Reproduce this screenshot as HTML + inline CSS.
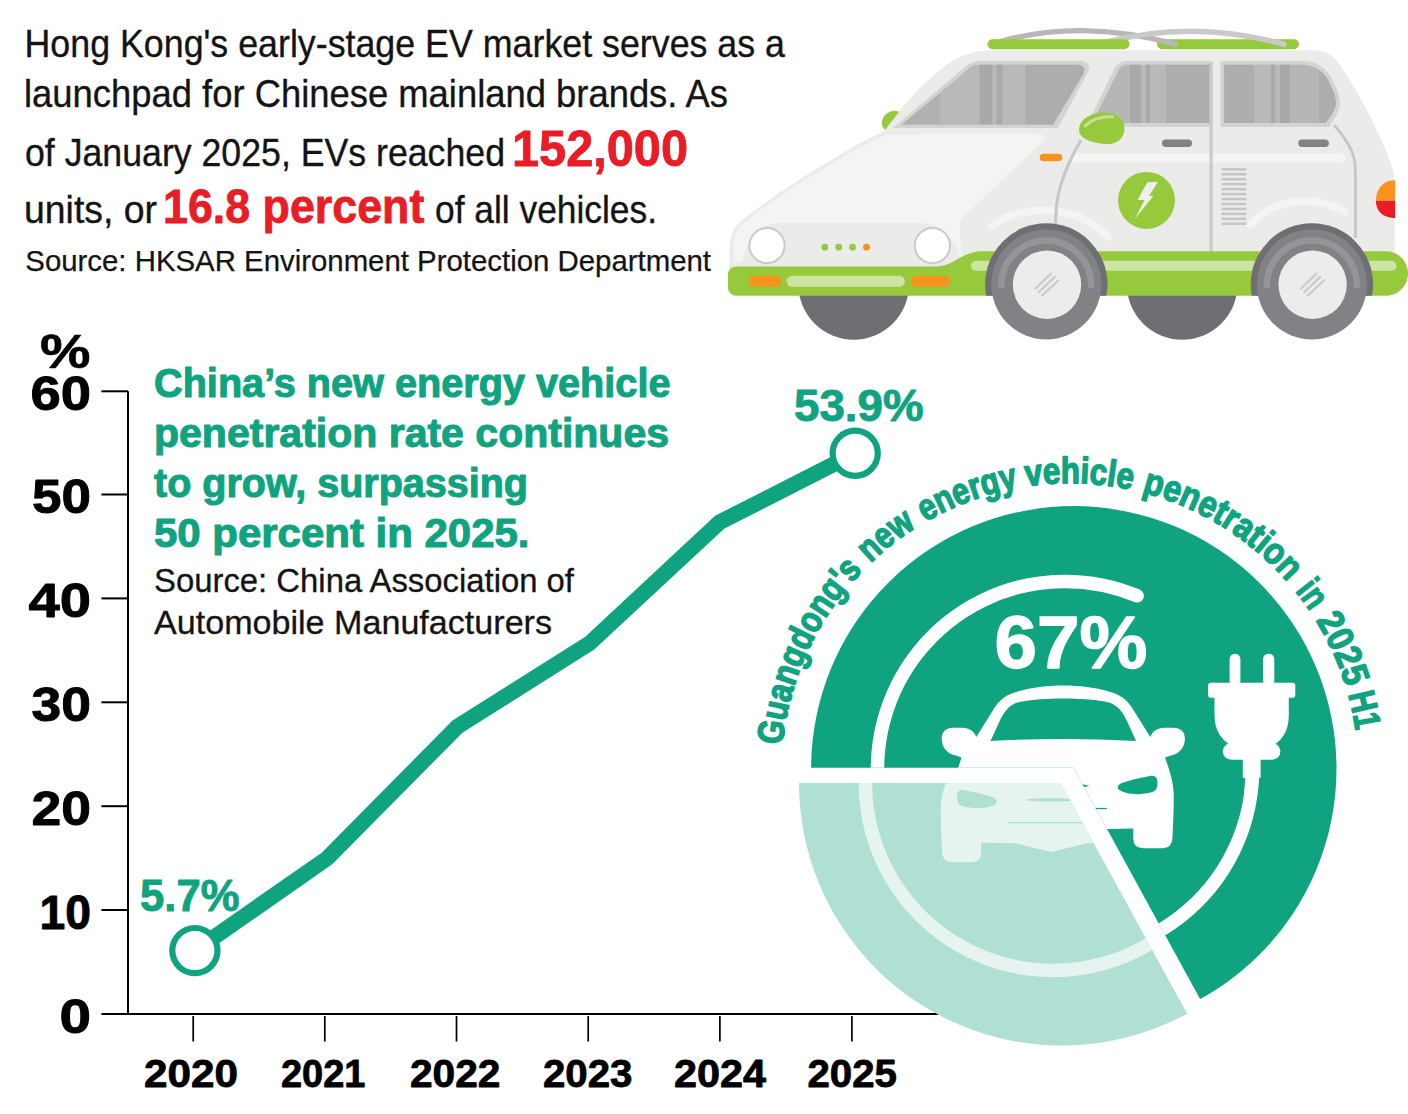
<!DOCTYPE html>
<html lang="en"><head><meta charset="utf-8"><title>EV market infographic</title>
<style>
html,body{margin:0;padding:0;background:#fff}
body{width:1408px;height:1114px;overflow:hidden}
svg{display:block}
svg text{font-family:"Liberation Sans",sans-serif}
</style></head><body>
<svg width="1408" height="1114" viewBox="0 0 1408 1114">
<rect width="1408" height="1114" fill="#fff"/>
<g>
<circle cx="853.7" cy="284.3" r="55.4" fill="#6e6f72"/>
<circle cx="1182.2" cy="284.3" r="55.4" fill="#6e6f72"/>
<ellipse cx="892.5" cy="121" rx="11.5" ry="9.5" fill="#97c93c" transform="rotate(-40 892.5 121)"/>
<rect x="1157" y="39.2" width="142" height="10" rx="5" fill="#97c93c"/>
<path d="M994 43.5C1026 33.5 1058 30.3 1083 30.6C1118 31.2 1150 36.8 1175.5 44.4" fill="none" stroke="#b7b7b6" stroke-width="5.4" stroke-linecap="round"/>
<path d="M1102 43C1136 34 1166 31 1192 31.2C1226 31.6 1258 37 1284 44.4" fill="none" stroke="#c9c9c8" stroke-width="5.4" stroke-linecap="round"/>
<rect x="987.5" y="39.2" width="142" height="10" rx="5" fill="#97c93c"/>
<path d="M729.5 292V248C729.5 238 732 230 740 222C760 205 800 178 848 150C862 142 874 136 884 131C890 124 898 113 906 103C920 87 934 74 945 66C955 58 968 52 988 50.2H1312C1322 50.2 1330 52.5 1336 60C1350 78 1368 110 1380 137C1388 155 1394.8 168 1394.8 185V292Z" fill="#ebebe9"/>
<path d="M734 262V244C734 236 736 231 742 225C765 205 805 179 850 153C864 145 876 139 886 134.5L1038 133.6C1044 133.6 1046 138 1042 142L966 214C961 219 959.5 223 960 228L962 258L940 264Z" fill="#f4f4f3"/>
<path d="M742 267C743 246 756 222.8 782 222.8H918C942 222.8 956 240 961 260L940 267Z" fill="#ebebe9"/>
<rect x="1070" y="153.6" width="276" height="9" rx="4.5" fill="#f4f4f3"/>
<path d="M992 226C1006 215 1026 210 1046 210.5C1070 211 1092 220 1108 237" fill="none" stroke="#f4f4f3" stroke-width="7.5" stroke-linecap="round"/>
<path d="M1250.5 225C1264 209 1284 201 1304 201C1320 201 1334 205 1345 212" fill="none" stroke="#f4f4f3" stroke-width="7.5" stroke-linecap="round"/>
<path d="M893 128L966 66C970 62.5 975 61 980 61H1080C1088 61 1091 66 1087.5 73L1058 128Z" fill="#d3d3d1"/>
<path d="M902 124.6L970.5 67.5C973 65.5 975.5 64.8 979 64.8H1077C1083.5 64.8 1086 69 1083 74.5L1053 124.6Z" fill="#b3b3b3"/>
<path d="M1086 127L1114 69C1116.5 64 1121 61 1127 61H1211V127Z" fill="#d3d3d1"/>
<path d="M1092.5 123L1118.5 70.5C1120.3 66.8 1123 64.8 1127 64.8H1209.9V123Z" fill="#b3b3b3"/>
<path d="M1220.5 61H1301C1318 61 1327.5 69 1332.5 80C1338 91 1341 100 1339.5 107C1338 114 1333 121 1329 127H1220.5Z" fill="#d3d3d1"/>
<path d="M1224.2 64.8H1300C1315 64.8 1324 72 1329 82C1334 92 1337 100 1335.5 106C1334 112 1330 118 1325.6 123H1224.2Z" fill="#b3b3b3"/>
<g clip-path="url(#gl1)">
</g>
<clipPath id="gw1"><path d="M902 124.6L970.5 67.5C973 65.5 975.5 64.8 979 64.8H1077C1083.5 64.8 1086 69 1083 74.5L1053 124.6Z"/></clipPath><g clip-path="url(#gw1)">
<rect x="900" y="60" width="40" height="70" fill="#b1b1b1"/>
<rect x="940" y="60" width="39.5" height="70" fill="#b9b9b9"/>
<rect x="979.5" y="60" width="13" height="70" fill="#a9a9a9"/>
<rect x="992.5" y="60" width="4" height="70" fill="#bababa"/>
<rect x="996.5" y="60" width="6" height="70" fill="#a9a9a9"/>
<rect x="1002.5" y="60" width="23" height="70" fill="#b9b9b9"/>
<rect x="1025.5" y="60" width="70" height="70" fill="#adadad"/>
</g>
<clipPath id="gw2"><path d="M1092.5 123L1118.5 70.5C1120.3 66.8 1123 64.8 1127 64.8H1209.9V123Z"/></clipPath><g clip-path="url(#gw2)">
<rect x="1090" y="60" width="40" height="70" fill="#b6b6b6"/>
<rect x="1130" y="60" width="11" height="70" fill="#a9a9a9"/>
<rect x="1141" y="60" width="5" height="70" fill="#b9b9b9"/>
<rect x="1146" y="60" width="4" height="70" fill="#a9a9a9"/>
<rect x="1150" y="60" width="16" height="70" fill="#b9b9b9"/>
<rect x="1166" y="60" width="45" height="70" fill="#adadad"/>
</g>
<clipPath id="gw3"><path d="M1224.2 64.8H1300C1315 64.8 1324 72 1329 82C1334 92 1337 100 1335.5 106C1334 112 1330 118 1325.6 123H1224.2Z"/></clipPath><g clip-path="url(#gw3)">
<rect x="1224" y="60" width="30" height="70" fill="#adadad"/>
<rect x="1254" y="60" width="17" height="70" fill="#b9b9b9"/>
<rect x="1271" y="60" width="4" height="70" fill="#a9a9a9"/>
<rect x="1275" y="60" width="5" height="70" fill="#b9b9b9"/>
<rect x="1280" y="60" width="10" height="70" fill="#a9a9a9"/>
<rect x="1290" y="60" width="29" height="70" fill="#b6b6b6"/>
<rect x="1319" y="60" width="20" height="70" fill="#adadad"/>
</g>
<path d="M1211.1 62V252" stroke="#cbcbc9" stroke-width="3.4" fill="none"/>
<path d="M1081 140C1074 152 1066 168 1061 184C1057 197 1055.5 210 1055.5 226" stroke="#c7c7c6" stroke-width="3.1" fill="none"/>
<path d="M1334 125C1343 135 1351 146 1354 158C1355.5 164 1355.5 170 1355.5 176V238" stroke="#c7c7c6" stroke-width="2.8" fill="none"/>
<rect x="1162" y="139.6" width="30" height="7.4" rx="3.7" fill="#808285"/>
<rect x="1298.3" y="139.6" width="30.6" height="7.4" rx="3.7" fill="#808285"/>
<rect x="1039.7" y="153.7" width="22.5" height="7.6" rx="3.8" fill="#f7941e"/>
<rect x="1221.5" y="168.1" width="24.9" height="2.5" fill="#c5c5c4"/>
<rect x="1221.5" y="173.0" width="24.9" height="2.5" fill="#c5c5c4"/>
<rect x="1221.5" y="178.0" width="24.9" height="2.5" fill="#c5c5c4"/>
<rect x="1221.5" y="182.9" width="24.9" height="2.5" fill="#c5c5c4"/>
<rect x="1221.5" y="187.9" width="24.9" height="2.5" fill="#c5c5c4"/>
<rect x="1221.5" y="192.8" width="24.9" height="2.5" fill="#c5c5c4"/>
<rect x="1221.5" y="197.8" width="24.9" height="2.5" fill="#c5c5c4"/>
<rect x="1221.5" y="202.7" width="24.9" height="2.5" fill="#c5c5c4"/>
<rect x="1221.5" y="207.7" width="24.9" height="2.5" fill="#c5c5c4"/>
<rect x="1221.5" y="212.6" width="24.9" height="2.5" fill="#c5c5c4"/>
<rect x="1221.5" y="217.6" width="24.9" height="2.5" fill="#c5c5c4"/>
<rect x="1221.5" y="222.5" width="24.9" height="2.5" fill="#c5c5c4"/>
<circle cx="1146.5" cy="200.4" r="28.5" fill="#97c93c"/>
<path d="M1147.5 182.2L1158 181.8L1149.1 196H1153.4L1135 218.8L1144.5 200H1137.5Z" fill="#efefed"/>
<path d="M1079 130C1079 121 1088 114 1101 112.6C1114 111.5 1123 117 1124.3 126C1125.5 136 1119 144 1108 144C1094 144 1079 139 1079 130Z" fill="#97c93c"/>
<path d="M1085 126C1091 120 1101 116.5 1112.5 116.8" stroke="#c6e192" stroke-width="3" fill="none" stroke-linecap="round"/>
<path d="M1395.2 180.2H1394C1383 180.2 1375.9 189 1375.9 200.8H1395.2Z" fill="#f7941e"/>
<path d="M1375.9 200.8C1375.9 211 1383 217.9 1394 217.9H1395.2V200.8Z" fill="#ed1c24"/>
<path d="M736.5 266.5H935C955 266.5 961 251.2 983 251.2H1385.7C1398 251.2 1408 261 1408 273.5C1408 286 1398 295.8 1385.7 295.8H736.5C731.5 295.8 728 292 728 287.5V275C728 270 731.5 266.5 736.5 266.5Z" fill="#97c93c"/>
<rect x="786.6" y="275.8" width="118.3" height="11" rx="5.5" fill="#cbe5a3"/>
<rect x="748.4" y="275.8" width="32.8" height="11" rx="5.5" fill="#f7941e"/>
<rect x="910.5" y="275.8" width="39.8" height="11" rx="5.5" fill="#f7941e"/>
<rect x="971" y="260.8" width="425.5" height="10" rx="5" fill="#cbe5a3"/>
<circle cx="767" cy="245.6" r="17.6" fill="#fff" stroke="#c9c9c8" stroke-width="2"/>
<circle cx="932.4" cy="245.6" r="17.6" fill="#fff" stroke="#c9c9c8" stroke-width="2"/>
<circle cx="824.8" cy="247.2" r="3.4" fill="#97c93c"/>
<circle cx="838.7" cy="247.2" r="3.4" fill="#97c93c"/>
<circle cx="852.6" cy="247.2" r="3.4" fill="#97c93c"/>
<circle cx="866.5" cy="247.2" r="3.4" fill="#f7941e"/>
<clipPath id="archclip"><rect x="960" y="200" width="448" height="95.8"/></clipPath>
<circle cx="1046.3" cy="284.4" r="61.2" fill="#6e6f72" clip-path="url(#archclip)"/>
<circle cx="1046.3" cy="284.4" r="55" fill="#808285"/>
<path d="M1001.3 285.4A45 45 0 0 1 1091.3 285.4" fill="none" stroke="#939598" stroke-width="6.5" stroke-linecap="round"/>
<circle cx="1047.0" cy="284.7" r="34.2" fill="#ececea"/>
<path d="M1034.8 289.1L1051.5 273.1" stroke="#cbcbca" stroke-width="2.2" fill="none"/>
<path d="M1038.2 292.6L1055.3 276.4" stroke="#cbcbca" stroke-width="2.2" fill="none"/>
<path d="M1041.6 296.1L1059.1 279.7" stroke="#cbcbca" stroke-width="2.2" fill="none"/>
<circle cx="1311.9" cy="284.4" r="61.2" fill="#6e6f72" clip-path="url(#archclip)"/>
<circle cx="1311.9" cy="284.4" r="55" fill="#808285"/>
<path d="M1266.9 285.4A45 45 0 0 1 1356.9 285.4" fill="none" stroke="#939598" stroke-width="6.5" stroke-linecap="round"/>
<circle cx="1312.6000000000001" cy="284.7" r="34.2" fill="#ececea"/>
<path d="M1300.4 289.1L1317.1 273.1" stroke="#cbcbca" stroke-width="2.2" fill="none"/>
<path d="M1303.8 292.6L1320.9 276.4" stroke="#cbcbca" stroke-width="2.2" fill="none"/>
<path d="M1307.2 296.1L1324.7 279.7" stroke="#cbcbca" stroke-width="2.2" fill="none"/>
</g>
<text x="24.5" y="57.0" font-size="39.5" font-weight="normal" fill="#141414" textLength="760.5" lengthAdjust="spacingAndGlyphs" stroke="#141414" stroke-width="0.35" stroke-linejoin="round">Hong Kong's early-stage EV market serves as a</text>
<text x="24.0" y="107.0" font-size="39.5" font-weight="normal" fill="#141414" textLength="704.0" lengthAdjust="spacingAndGlyphs" stroke="#141414" stroke-width="0.35" stroke-linejoin="round">launchpad for Chinese mainland brands. As</text>
<text x="25.0" y="165.7" font-size="39.5" font-weight="normal" fill="#141414" textLength="480.0" lengthAdjust="spacingAndGlyphs" stroke="#141414" stroke-width="0.35" stroke-linejoin="round">of January 2025, EVs reached</text>
<text x="512.0" y="166.0" font-size="49.2" font-weight="bold" fill="#e81d25" textLength="176.0" lengthAdjust="spacingAndGlyphs" stroke="#e81d25" stroke-width="0.8" stroke-linejoin="round">152,000</text>
<text x="24.0" y="222.5" font-size="39.5" font-weight="normal" fill="#141414" textLength="133.0" lengthAdjust="spacingAndGlyphs" stroke="#141414" stroke-width="0.35" stroke-linejoin="round">units, or</text>
<text x="163.0" y="223.4" font-size="47.8" font-weight="bold" fill="#e81d25" textLength="261.3" lengthAdjust="spacingAndGlyphs" stroke="#e81d25" stroke-width="0.8" stroke-linejoin="round">16.8 percent</text>
<text x="435.0" y="222.5" font-size="39.5" font-weight="normal" fill="#141414" textLength="222.0" lengthAdjust="spacingAndGlyphs" stroke="#141414" stroke-width="0.35" stroke-linejoin="round">of all vehicles.</text>
<text x="25.3" y="270.5" font-size="29.2" font-weight="normal" fill="#141414" textLength="685.7" lengthAdjust="spacingAndGlyphs" stroke="#141414" stroke-width="0.25" stroke-linejoin="round">Source: HKSAR Environment Protection Department</text>
<g stroke="#000" stroke-width="2" fill="none">
<path d="M128 391.3V1014"/>
<path d="M101.4 1014H938"/>
<path d="M101.4 391.3H128"/>
<path d="M101.4 494.5H128"/>
<path d="M101.4 598.4H128"/>
<path d="M101.4 702.3H128"/>
<path d="M101.4 806.2H128"/>
<path d="M101.4 910.0H128"/>
</g>
<g stroke="#000" stroke-width="1.7" fill="none">
<path d="M193.2 1016V1041.5"/>
<path d="M324.8 1016V1041.5"/>
<path d="M456.5 1016V1041.5"/>
<path d="M588.2 1016V1041.5"/>
<path d="M719.9 1016V1041.5"/>
<path d="M851.9 1016V1041.5"/>
</g>
<text x="30.5" y="410.1" font-size="48.2" font-weight="bold" fill="#000" textLength="60.5" lengthAdjust="spacingAndGlyphs" stroke="#000" stroke-width="0.9" stroke-linejoin="round">60</text>
<text x="32.0" y="512.5" font-size="48.2" font-weight="bold" fill="#000" textLength="59.0" lengthAdjust="spacingAndGlyphs" stroke="#000" stroke-width="0.9" stroke-linejoin="round">50</text>
<text x="28.5" y="616.6" font-size="48.2" font-weight="bold" fill="#000" textLength="62.5" lengthAdjust="spacingAndGlyphs" stroke="#000" stroke-width="0.9" stroke-linejoin="round">40</text>
<text x="31.5" y="721.1" font-size="48.2" font-weight="bold" fill="#000" textLength="59.5" lengthAdjust="spacingAndGlyphs" stroke="#000" stroke-width="0.9" stroke-linejoin="round">30</text>
<text x="31.5" y="825.0" font-size="48.2" font-weight="bold" fill="#000" textLength="59.5" lengthAdjust="spacingAndGlyphs" stroke="#000" stroke-width="0.9" stroke-linejoin="round">20</text>
<text x="39.5" y="928.9" font-size="48.2" font-weight="bold" fill="#000" textLength="51.5" lengthAdjust="spacingAndGlyphs" stroke="#000" stroke-width="0.9" stroke-linejoin="round">10</text>
<text x="59.5" y="1032.8" font-size="48.2" font-weight="bold" fill="#000" textLength="31.5" lengthAdjust="spacingAndGlyphs" stroke="#000" stroke-width="0.9" stroke-linejoin="round">0</text>
<text x="40.0" y="368.0" font-size="47.2" font-weight="bold" fill="#000" textLength="50.5" lengthAdjust="spacingAndGlyphs" stroke="#000" stroke-width="0.6" stroke-linejoin="round">%</text>
<text x="144.0" y="1086.8" font-size="38.2" font-weight="bold" fill="#000" textLength="94.0" lengthAdjust="spacingAndGlyphs" stroke="#000" stroke-width="0.8" stroke-linejoin="round">2020</text>
<text x="281.0" y="1086.8" font-size="38.2" font-weight="bold" fill="#000" textLength="84.5" lengthAdjust="spacingAndGlyphs" stroke="#000" stroke-width="0.8" stroke-linejoin="round">2021</text>
<text x="410.0" y="1086.8" font-size="38.2" font-weight="bold" fill="#000" textLength="90.5" lengthAdjust="spacingAndGlyphs" stroke="#000" stroke-width="0.8" stroke-linejoin="round">2022</text>
<text x="543.0" y="1086.8" font-size="38.2" font-weight="bold" fill="#000" textLength="89.5" lengthAdjust="spacingAndGlyphs" stroke="#000" stroke-width="0.8" stroke-linejoin="round">2023</text>
<text x="674.0" y="1086.8" font-size="38.2" font-weight="bold" fill="#000" textLength="92.0" lengthAdjust="spacingAndGlyphs" stroke="#000" stroke-width="0.8" stroke-linejoin="round">2024</text>
<text x="807.5" y="1086.8" font-size="38.2" font-weight="bold" fill="#000" textLength="89.5" lengthAdjust="spacingAndGlyphs" stroke="#000" stroke-width="0.8" stroke-linejoin="round">2025</text>
<text x="154.0" y="397.3" font-size="41.2" font-weight="bold" fill="#0fa37f" textLength="516.5" lengthAdjust="spacingAndGlyphs" stroke="#0fa37f" stroke-width="1.1" stroke-linejoin="round">China’s new energy vehicle</text>
<text x="154.0" y="447.3" font-size="41.2" font-weight="bold" fill="#0fa37f" textLength="515.0" lengthAdjust="spacingAndGlyphs" stroke="#0fa37f" stroke-width="1.1" stroke-linejoin="round">penetration rate continues</text>
<text x="154.0" y="497.4" font-size="41.2" font-weight="bold" fill="#0fa37f" textLength="374.0" lengthAdjust="spacingAndGlyphs" stroke="#0fa37f" stroke-width="1.1" stroke-linejoin="round">to grow, surpassing</text>
<text x="154.0" y="547.0" font-size="41.2" font-weight="bold" fill="#0fa37f" textLength="375.5" lengthAdjust="spacingAndGlyphs" stroke="#0fa37f" stroke-width="1.1" stroke-linejoin="round">50 percent in 2025.</text>
<text x="154.0" y="591.8" font-size="32.7" font-weight="normal" fill="#141414" textLength="420.0" lengthAdjust="spacingAndGlyphs" stroke="#141414" stroke-width="0.3" stroke-linejoin="round">Source: China Association of</text>
<text x="154.0" y="633.8" font-size="32.7" font-weight="normal" fill="#141414" textLength="398.0" lengthAdjust="spacingAndGlyphs" stroke="#141414" stroke-width="0.3" stroke-linejoin="round">Automobile Manufacturers</text>
<path d="M194.9 950.6 L327.2 858.3 L457.4 726.7 L589.5 643.4 L719.6 522.2 L855.2 453.3" fill="none" stroke="#0fa37f" stroke-width="15.6" stroke-linejoin="miter"/>
<circle cx="194.9" cy="950.6" r="22.6" fill="#fff" stroke="#0fa37f" stroke-width="6.2"/>
<circle cx="855.2" cy="453.3" r="22.6" fill="#fff" stroke="#0fa37f" stroke-width="6.2"/>
<text x="140.0" y="911.0" font-size="43.6" font-weight="bold" fill="#0fa37f" textLength="99.5" lengthAdjust="spacingAndGlyphs" stroke="#0fa37f" stroke-width="0.9" stroke-linejoin="round">5.7%</text>
<text x="794.0" y="420.5" font-size="43.6" font-weight="bold" fill="#0fa37f" textLength="129.5" lengthAdjust="spacingAndGlyphs" stroke="#0fa37f" stroke-width="0.9" stroke-linejoin="round">53.9%</text>
<defs>
<clipPath id="cd"><path d="M1073.5 767.85L733.5 767.85A340 340 0 1 1 1236.8 1066.1Z"/></clipPath>
<clipPath id="cl"><path d="M1072.90 768.90L1236.2 1067.1A340 340 0 0 1 732.90 768.90Z"/></clipPath>
<path id="arc" d="M781.44 766.96A288.6 288.6 0 0 1 1358.56 766.96"/>
</defs>
<g transform="translate(-12.1 14.1)"><g clip-path="url(#cl)">
<circle cx="1073.8" cy="768.8" r="262.7" fill="#b0dfd3"/>
<path d="M1137.1 595.8A187.5 187.5 0 1 0 1252.5 768.9" fill="none" stroke="#e6f4f0" stroke-width="13.5" stroke-linecap="round"/>
<g fill="#e6f4f0">
<rect x="1229.6" y="653.7" width="10.8" height="33" rx="5.4"/>
<rect x="1263" y="653.7" width="11.3" height="33" rx="5.6"/>
<rect x="1208.1" y="682.8" width="87.2" height="15" rx="2.8"/>
<path d="M1214.5 696V715C1214.5 730 1221 739 1230 745H1274C1283 739 1288.8 730 1288.8 715V696Z"/>
<rect x="1222.8" y="743" width="57.6" height="16.8" rx="8.4"/>
<path d="M1242.8 755H1260.6V778.1H1258.9L1257.6 793H1244.4L1245.1 778.1H1242.8Z"/>
<path d="M1063.30 685.40C1079.30 685.40 1095.30 687.50 1105.40 690.60C1112.30 692.50 1118.30 694.50 1122.90 697.80C1127.30 701 1130.80 705.50 1134.20 711.20L1150.30 737C1152.30 731.50 1157.30 727.80 1164.30 727.80L1173.30 727.80C1180.80 727.80 1184.90 732 1184.90 738.50C1184.90 747.50 1179.30 754 1170.80 755.50L1165.10 757.50C1168.30 768 1173.80 780 1173.80 796C1173.80 812 1172.90 826 1172.50 838Q1172.10 848.20 1162.30 848.20L1143.30 848.20Q1133.30 848.20 1133.30 838.50L1133.30 828.60L1099.30 829.20L1063.30 838L1027.30 829.20L993.30 828.60L993.30 838.50Q993.30 848.20 983.30 848.20L964.30 848.20Q954.50 848.20 954.10 838C953.70 826 952.80 812 952.80 796C952.80 780 958.30 768 961.50 757.50L955.80 755.50C947.30 754 941.70 747.50 941.70 738.50C941.70 732 945.80 727.80 953.30 727.80L962.30 727.80C969.30 727.80 974.30 731.50 976.30 737L992.40 711.20C995.80 705.50 999.30 701 1003.70 697.80C1008.30 694.50 1014.30 692.50 1021.20 690.60C1031.30 687.50 1047.30 685.40 1063.30 685.40Z"/>
</g>
<g fill="#b0dfd3">
<path d="M1063.30 698.60C1078.30 698.60 1094.30 699.80 1105.80 701.70C1111.80 702.80 1115.80 705.30 1119.30 708.90C1122.80 712.80 1125.60 717.50 1128.30 724L1136.10 741Q1100.30 739 1063.30 739Q1026.30 739 990.50 741L998.30 724C1001 717.50 1003.80 712.80 1007.30 708.90C1010.80 705.30 1014.80 702.80 1020.80 701.70C1032.30 699.80 1048.30 698.60 1063.30 698.60Z"/>
<path transform="translate(1063.3 0) " d="M55 789.3C53.5 786.5 55.5 784 60 782.5C68 780 78 777.5 88 775.8Q93.8 775.2 94.2 782Q94.5 790.5 89 792C78 795.2 63 795.2 55 789.3Z"/>
<path transform="translate(1063.3 0) scale(-1 1)" d="M55 789.3C53.5 786.5 55.5 784 60 782.5C68 780 78 777.5 88 775.8Q93.8 775.2 94.2 782Q94.5 790.5 89 792C78 795.2 63 795.2 55 789.3Z"/>
<ellipse cx="1063.3" cy="785.8" rx="25.7" ry="1.7"/>
<rect x="1019.8" y="807.9" width="87" height="1.3"/>
</g>
<text x="994.5" y="668.2" font-size="75" font-weight="bold" fill="#e6f4f0" stroke="#e6f4f0" stroke-width="1.4" stroke-linejoin="round" textLength="152.8" lengthAdjust="spacingAndGlyphs">67%</text>
</g></g>
<g clip-path="url(#cd)">
<circle cx="1073.8" cy="768.8" r="262.7" fill="#0fa37f"/>
<path d="M1137.1 595.8A187.5 187.5 0 1 0 1252.5 768.9" fill="none" stroke="#fff" stroke-width="13.5" stroke-linecap="round"/>
<g fill="#fff">
<rect x="1229.6" y="653.7" width="10.8" height="33" rx="5.4"/>
<rect x="1263" y="653.7" width="11.3" height="33" rx="5.6"/>
<rect x="1208.1" y="682.8" width="87.2" height="15" rx="2.8"/>
<path d="M1214.5 696V715C1214.5 730 1221 739 1230 745H1274C1283 739 1288.8 730 1288.8 715V696Z"/>
<rect x="1222.8" y="743" width="57.6" height="16.8" rx="8.4"/>
<path d="M1242.8 755H1260.6V778.1H1258.9L1257.6 793H1244.4L1245.1 778.1H1242.8Z"/>
<path d="M1063.30 685.40C1079.30 685.40 1095.30 687.50 1105.40 690.60C1112.30 692.50 1118.30 694.50 1122.90 697.80C1127.30 701 1130.80 705.50 1134.20 711.20L1150.30 737C1152.30 731.50 1157.30 727.80 1164.30 727.80L1173.30 727.80C1180.80 727.80 1184.90 732 1184.90 738.50C1184.90 747.50 1179.30 754 1170.80 755.50L1165.10 757.50C1168.30 768 1173.80 780 1173.80 796C1173.80 812 1172.90 826 1172.50 838Q1172.10 848.20 1162.30 848.20L1143.30 848.20Q1133.30 848.20 1133.30 838.50L1133.30 828.60L1099.30 829.20L1063.30 838L1027.30 829.20L993.30 828.60L993.30 838.50Q993.30 848.20 983.30 848.20L964.30 848.20Q954.50 848.20 954.10 838C953.70 826 952.80 812 952.80 796C952.80 780 958.30 768 961.50 757.50L955.80 755.50C947.30 754 941.70 747.50 941.70 738.50C941.70 732 945.80 727.80 953.30 727.80L962.30 727.80C969.30 727.80 974.30 731.50 976.30 737L992.40 711.20C995.80 705.50 999.30 701 1003.70 697.80C1008.30 694.50 1014.30 692.50 1021.20 690.60C1031.30 687.50 1047.30 685.40 1063.30 685.40Z"/>
</g>
<g fill="#0fa37f">
<path d="M1063.30 698.60C1078.30 698.60 1094.30 699.80 1105.80 701.70C1111.80 702.80 1115.80 705.30 1119.30 708.90C1122.80 712.80 1125.60 717.50 1128.30 724L1136.10 741Q1100.30 739 1063.30 739Q1026.30 739 990.50 741L998.30 724C1001 717.50 1003.80 712.80 1007.30 708.90C1010.80 705.30 1014.80 702.80 1020.80 701.70C1032.30 699.80 1048.30 698.60 1063.30 698.60Z"/>
<path transform="translate(1063.3 0) " d="M55 789.3C53.5 786.5 55.5 784 60 782.5C68 780 78 777.5 88 775.8Q93.8 775.2 94.2 782Q94.5 790.5 89 792C78 795.2 63 795.2 55 789.3Z"/>
<path transform="translate(1063.3 0) scale(-1 1)" d="M55 789.3C53.5 786.5 55.5 784 60 782.5C68 780 78 777.5 88 775.8Q93.8 775.2 94.2 782Q94.5 790.5 89 792C78 795.2 63 795.2 55 789.3Z"/>
<ellipse cx="1063.3" cy="785.8" rx="25.7" ry="1.7"/>
<rect x="1019.8" y="807.9" width="87" height="1.3"/>
</g>
<text x="994.5" y="668.2" font-size="75" font-weight="bold" fill="#fff" stroke="#fff" stroke-width="1.4" stroke-linejoin="round" textLength="152.8" lengthAdjust="spacingAndGlyphs">67%</text>
</g>
<g font-size="37" font-weight="bold" fill="#0fa37f" stroke="#0fa37f" stroke-width="1.5" stroke-linejoin="round">
<text><textPath href="#arc" startOffset="21.7" textLength="195.9" lengthAdjust="spacingAndGlyphs">Guangdong's</textPath></text>
<text><textPath href="#arc" startOffset="228.1" textLength="58.6" lengthAdjust="spacingAndGlyphs">new</textPath></text>
<text><textPath href="#arc" startOffset="296.7" textLength="99.6" lengthAdjust="spacingAndGlyphs">energy</textPath></text>
<text><textPath href="#arc" startOffset="404.3" textLength="106.5" lengthAdjust="spacingAndGlyphs">vehicle</textPath></text>
<text><textPath href="#arc" startOffset="520.8" textLength="173.8" lengthAdjust="spacingAndGlyphs">penetration</textPath></text>
<text><textPath href="#arc" startOffset="706.1" textLength="25.6" lengthAdjust="spacingAndGlyphs">in</textPath></text>
<text><textPath href="#arc" startOffset="742.2" textLength="73.8" lengthAdjust="spacingAndGlyphs">2025</textPath></text>
<text><textPath href="#arc" startOffset="823.1" textLength="37.2" lengthAdjust="spacingAndGlyphs">H1</textPath></text>
</g>
</svg>
</body></html>
